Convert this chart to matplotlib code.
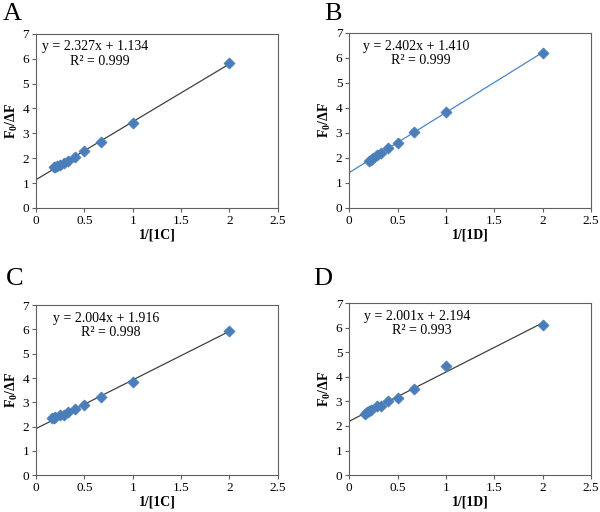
import matplotlib
matplotlib.use("Agg")
import matplotlib.pyplot as plt
import numpy as np

plt.rcParams["font.family"] = ["Liberation Serif", "DejaVu Serif"]
plt.rcParams["mathtext.fontset"] = "custom"
plt.rcParams["mathtext.rm"] = "Liberation Serif"
plt.rcParams["mathtext.bf"] = "Liberation Serif:bold"

# 1/[quencher] values and F0/dF readings for each panel
x_A = [2.0, 1.0, 0.667, 0.5, 0.4, 0.333, 0.286, 0.25, 0.222, 0.2, 0.182]
y_A = [5.83, 3.42, 2.65, 2.28, 2.03, 1.88, 1.80, 1.74, 1.70, 1.66, 1.64]
x_B = [2.0, 1.0, 0.667, 0.5, 0.4, 0.333, 0.286, 0.25, 0.222, 0.2]
y_B = [6.18, 3.83, 3.02, 2.58, 2.38, 2.20, 2.10, 2.00, 1.93, 1.87]
x_C = [2.0, 1.0, 0.667, 0.5, 0.4, 0.333, 0.286, 0.25, 0.2, 0.182, 0.167]
y_C = [5.92, 3.85, 3.23, 2.90, 2.72, 2.60, 2.48, 2.46, 2.38, 2.36, 2.35]
x_D = [2.0, 1.0, 0.667, 0.5, 0.4, 0.333, 0.286, 0.222, 0.2, 0.182, 0.167]
y_D = [6.10, 4.45, 3.50, 3.12, 3.02, 2.80, 2.82, 2.65, 2.60, 2.55, 2.48]

slopes = [2.327, 2.402, 2.004, 2.001]
intercepts = [1.134, 1.410, 1.916, 2.194]
r2 = ["0.999", "0.999", "0.998", "0.993"]
letters = ["A", "B", "C", "D"]
xlabels = ["1/[1C]", "1/[1D]", "1/[1C]", "1/[1D]"]
line_colors = ["#404040", "#4a86c8", "#404040", "#404040"]
text_x = [0.61, 0.69, 0.72, 0.70]

datasets = [(x_A, y_A), (x_B, y_B), (x_C, y_C), (x_D, y_D)]
rects = [
    (0.060, 0.594, 0.403, 0.340),
    (0.582, 0.594, 0.403, 0.342),
    (0.060, 0.072, 0.403, 0.332),
    (0.582, 0.072, 0.403, 0.336),
]
letter_pos = [(0.005, 0.972), (0.540, 0.972), (0.010, 0.455), (0.522, 0.455)]

fig = plt.figure(figsize=(6.0, 5.12), dpi=100)

for i, (xs, ys) in enumerate(datasets):
    ax = fig.add_axes(rects[i])
    xf = np.array([0.0, 2.0])
    ax.plot(xf, slopes[i] * xf + intercepts[i], color=line_colors[i], lw=0.9, zorder=2)
    ax.scatter(xs, ys, marker="D", s=32, color="#4a7ebb", edgecolors="#4a7ebb",
               linewidths=0.5, zorder=3)
    ax.set_xlim(0, 2.5)
    ax.set_ylim(0, 7)
    ax.set_xticks([0, 0.5, 1, 1.5, 2, 2.5])
    ax.set_xticklabels(["0", "0.5", "1", "1.5", "2", "2.5"])
    ax.set_yticks(range(8))
    ax.tick_params(labelsize=9.5, length=3, width=0.8, color="#606060", pad=2)
    for sp in ax.spines.values():
        sp.set_color("#606060")
        sp.set_linewidth(0.8)
    ax.set_xlabel(xlabels[i], fontsize=10, fontweight="bold", labelpad=1)
    ax.set_ylabel(r"$\mathbf{F_0}$/ΔF", fontsize=10, fontweight="bold", labelpad=2)
    ax.text(text_x[i], 6.47, f"y = {slopes[i]:.3f}x + {intercepts[i]:.3f}",
            ha="center", va="center", fontsize=10)
    ax.text(text_x[i] + 0.05, 5.88, f"R² = {r2[i]}", ha="center", va="center", fontsize=10)
    fig.text(letter_pos[i][0], letter_pos[i][1], letters[i], fontsize=19,
             ha="left", va="center")

fig.savefig("out.png", dpi=100)
